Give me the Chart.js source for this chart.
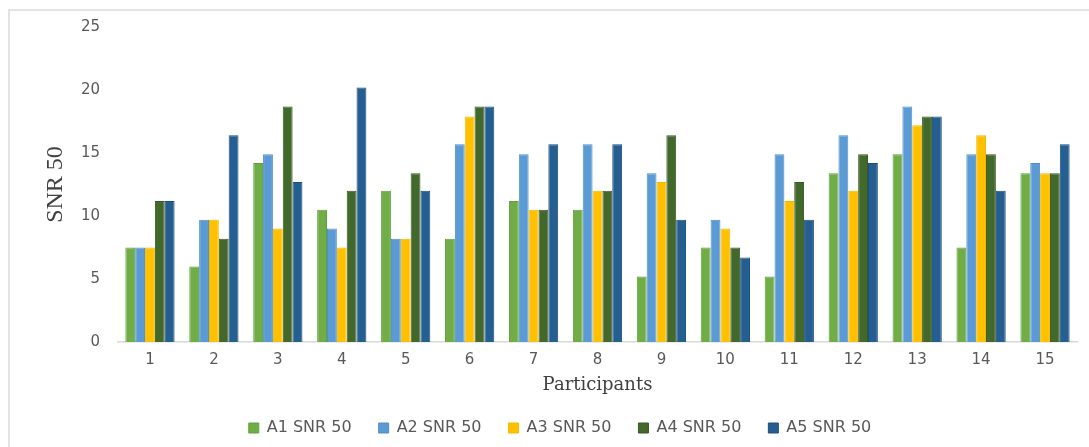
<!DOCTYPE html>
<html lang="en">
<head>
    <meta charset="UTF-8">
    <title>SNR 50 per participant</title>
    <style>
        body { margin: 0; background: #fff; }
        .wrap { position: relative; width: 1089px; height: 447px; }
        .frame { position: absolute; left: 8px; top: 9px; right: 0; bottom: 0; border-left: 2px solid #e3e3e3; border-top: 2px solid #e3e3e3; }
        canvas { position: absolute; left: 0; top: 0; }
    </style>
</head>
<body>
    <div class="wrap">
        <div class="frame"></div>
        <canvas id="chart" width="1089" height="447"></canvas>
    </div>

    <script src="https://cdn.jsdelivr.net/npm/chart.js@4.4.9/dist/chart.umd.min.js"></script>
    <script>
        // values
        const participants = ['1','2','3','4','5','6','7','8','9','10','11','12','13','14','15'];
        const a1 = [7.5, 6, 14.2, 10.5, 12, 8.2, 11.2, 10.5, 5.2, 7.5, 5.2, 13.4, 14.9, 7.5, 13.4];
        const a2 = [7.5, 9.7, 14.9, 9, 8.2, 15.7, 14.9, 15.7, 13.4, 9.7, 14.9, 16.4, 18.7, 14.9, 14.2];
        const a3 = [7.5, 9.7, 9, 7.5, 8.2, 17.9, 10.5, 12, 12.7, 9, 11.2, 12, 17.2, 16.4, 13.4];
        const a4 = [11.2, 8.2, 18.7, 12, 13.4, 18.7, 10.5, 12, 16.4, 7.5, 12.7, 14.9, 17.9, 14.9, 13.4];
        const a5 = [11.2, 16.4, 12.7, 20.2, 12, 18.7, 15.7, 15.7, 9.7, 6.7, 9.7, 14.2, 17.9, 12, 15.7];
        const yTicks = [0, 5, 10, 15, 20, 25];

        const textColor = '#595959';

        function series(label, data, fill, edge) {
            return {
                label: label,
                data: data,
                backgroundColor: fill,
                borderColor: edge,
                borderWidth: 1,
                categoryPercentage: 0.77,
                barPercentage: 1.0
            };
        }

        new Chart(document.getElementById('chart'), {
            type: 'bar',
            data: {
                labels: participants,
                datasets: [
                    series('A1 SNR 50', a1, '#70ad47', '#62a03c'),
                    series('A2 SNR 50', a2, '#5b9bd5', '#4f8fca'),
                    series('A3 SNR 50', a3, '#ffc000', '#f5b800'),
                    series('A4 SNR 50', a4, '#43682b', '#375a22'),
                    series('A5 SNR 50', a5, '#255e91', '#1c4f7e')
                ]
            },
            options: {
                responsive: false,
                animation: false,
                layout: { padding: { left: 43, right: 12, top: 20, bottom: 1 } },
                plugins: {
                    tooltip: { enabled: false },
                    legend: {
                        position: 'bottom',
                        labels: {
                            boxWidth: 10,
                            boxHeight: 10,
                            padding: 27,
                            color: textColor,
                            font: { family: 'DejaVu Sans', size: 16 }
                        }
                    }
                },
                scales: {
                    x: {
                        grid: { display: false, drawTicks: false },
                        border: { display: true, color: '#d9d9d9', width: 1.5 },
                        ticks: {
                            color: textColor,
                            padding: 9,
                            font: { family: 'DejaVu Sans', size: 15 }
                        },
                        title: {
                            display: true,
                            text: 'Participants',
                            color: '#404040',
                            font: { family: 'DejaVu Serif', size: 18 },
                            padding: { top: 0, bottom: -3 }
                        },
                        afterFit: function (scale) { scale.height = 51; }
                    },
                    y: {
                        min: 0,
                        max: 25,
                        afterBuildTicks: function (scale) {
                            scale.ticks = yTicks.map(v => ({ value: v }));
                        },
                        grid: { display: false, drawTicks: false },
                        border: { display: false },
                        ticks: {
                            color: textColor,
                            padding: 18,
                            font: { family: 'DejaVu Sans', size: 15 }
                        },
                        title: {
                            display: true,
                            text: 'SNR 50',
                            color: '#404040',
                            font: { family: 'Liberation Serif', size: 24 },
                            padding: { top: -2, bottom: 0 }
                        },
                        afterFit: function (scale) { scale.width = 75; }
                    }
                }
            }
        });
    </script>
</body>
</html>
